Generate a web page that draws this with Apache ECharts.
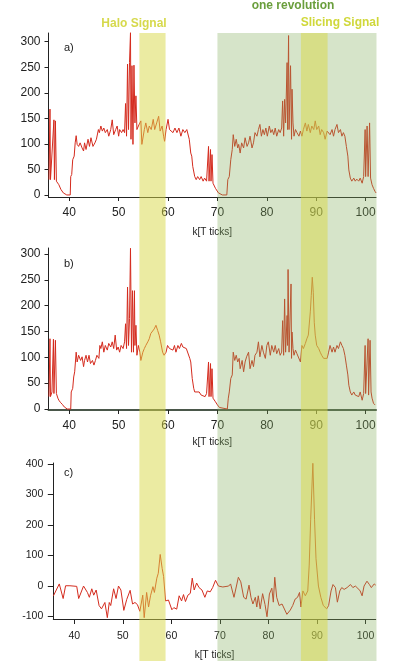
<!DOCTYPE html>
<html>
<head>
<meta charset="utf-8">
<script src="https://cdn.jsdelivr.net/npm/echarts@6/dist/echarts.min.js"></script>
<style>
  html, body { margin: 0; padding: 0; background: #fff; }
  #chart { width: 398px; height: 661px; }
</style>
</head>
<body>
<div id="chart"></div>
<script>
// signal a) [k, counts]
var signalA = [[35.9,30],[36.1,168],[36.2,30],[36.5,33],[36.9,147],[37.0,30],[37.2,145],[37.4,27],[37.8,27],[37.9,20],[38.3,11],[38.8,4],[39.1,1],[39.5,0],[40.2,0],[40.3,36],[40.5,40],[40.7,69],[41.0,76],[41.2,102],[41.4,116],[41.6,99],[41.9,95],[42.2,102],[42.6,92],[42.9,86],[43.1,102],[43.4,89],[43.8,109],[44.1,95],[44.4,112],[44.8,95],[45.2,102],[45.5,109],[45.9,128],[46.1,122],[46.4,135],[46.7,125],[47.0,131],[47.3,122],[47.7,128],[48.0,115],[48.4,128],[48.7,147],[49.0,118],[49.4,128],[49.7,135],[50.0,115],[50.2,128],[50.6,122],[50.9,128],[51.2,122],[51.4,179],[51.6,115],[51.8,256],[52.0,128],[52.2,259],[52.4,318],[52.5,109],[52.7,253],[52.9,99],[53.1,254],[53.3,141],[53.5,194],[53.7,128],[54.0,135],[54.5,145],[54.7,99],[55.2,128],[55.5,141],[55.9,122],[56.2,135],[56.6,128],[57.0,148],[57.3,128],[57.7,141],[58.1,154],[58.4,125],[58.8,135],[59.1,115],[59.3,105],[59.6,128],[60.0,148],[60.3,128],[60.6,131],[61.0,122],[61.4,131],[61.8,122],[62.2,131],[62.6,115],[63.0,128],[63.4,122],[63.8,128],[64.1,131],[64.3,109],[64.6,82],[64.8,76],[65.0,56],[65.4,36],[65.7,30],[66.0,36],[66.4,30],[66.7,36],[67.1,27],[67.4,33],[67.8,27],[68.2,95],[68.3,27],[68.6,89],[68.7,27],[68.9,79],[69.1,23],[69.6,13],[70.2,4],[70.5,1],[71.0,0],[71.9,0],[72.1,30],[72.4,36],[72.7,69],[73.0,89],[73.2,118],[73.5,95],[73.8,109],[74.1,92],[74.3,99],[74.6,82],[74.9,102],[75.3,92],[75.6,112],[76.0,95],[76.3,102],[76.6,115],[77.0,92],[77.3,102],[77.6,122],[78.0,115],[78.3,128],[78.6,138],[78.9,115],[79.2,128],[79.5,118],[79.8,131],[80.1,115],[80.5,135],[80.8,122],[81.1,128],[81.4,118],[81.7,131],[82.0,115],[82.4,128],[82.7,122],[83.0,131],[83.2,184],[83.4,115],[83.6,187],[83.8,141],[84.1,259],[84.2,128],[84.4,312],[84.5,128],[84.8,253],[85.0,109],[85.1,207],[85.3,141],[85.5,115],[85.8,128],[86.1,122],[86.5,115],[86.8,125],[87.1,115],[87.4,128],[87.8,141],[88.1,125],[88.4,138],[88.8,122],[89.1,135],[89.5,128],[89.8,145],[90.1,128],[90.5,135],[90.8,118],[91.1,128],[91.5,122],[91.8,109],[92.2,125],[92.5,128],[92.8,118],[93.2,128],[93.5,115],[93.8,128],[94.2,138],[94.5,122],[94.9,128],[95.2,115],[95.5,122],[95.8,115],[96.1,95],[96.4,76],[96.6,49],[96.9,33],[97.2,27],[97.6,33],[97.9,27],[98.2,31],[98.6,27],[98.9,33],[99.3,23],[99.6,36],[99.9,128],[100.0,36],[100.3,135],[100.5,36],[100.8,141],[101.0,33],[101.3,20],[101.6,13],[101.9,7],[102.1,4]];

// signal b)
var signalB = [[35.9,24],[36.1,136],[36.2,24],[36.5,33],[36.8,135],[36.9,30],[37.2,133],[37.4,30],[37.7,21],[37.9,17],[38.2,13],[38.6,9],[39.0,4],[39.3,2],[39.6,0],[40.3,0],[40.4,33],[40.7,40],[40.9,62],[41.1,72],[41.4,110],[41.6,91],[41.9,104],[42.3,94],[42.6,101],[42.9,82],[43.1,94],[43.4,104],[43.7,91],[44.0,104],[44.3,88],[44.7,94],[45.0,85],[45.3,94],[45.6,104],[46.0,98],[46.2,123],[46.4,117],[46.7,130],[47.0,110],[47.3,123],[47.7,114],[48.0,127],[48.4,120],[48.7,130],[49.0,117],[49.3,143],[49.6,114],[49.9,120],[50.2,110],[50.5,123],[50.9,117],[51.2,130],[51.4,165],[51.6,117],[51.8,236],[52.0,123],[52.2,175],[52.4,311],[52.6,110],[52.8,229],[53.0,110],[53.2,229],[53.3,123],[53.5,162],[53.7,104],[54.0,123],[54.3,110],[54.5,94],[54.9,110],[55.2,117],[55.5,123],[55.9,130],[56.2,136],[56.5,146],[56.9,143],[57.2,155],[57.55,162],[57.9,152],[58.2,143],[58.5,130],[58.9,110],[59.2,104],[59.6,110],[59.9,123],[60.3,117],[60.6,120],[61.0,114],[61.3,123],[61.6,110],[62.0,123],[62.3,117],[62.7,127],[63.0,120],[63.4,123],[63.7,117],[64.1,120],[64.4,98],[64.6,91],[64.9,59],[65.2,40],[65.4,33],[65.8,30],[66.3,33],[66.7,27],[67.1,30],[67.5,24],[67.8,30],[68.2,91],[68.3,24],[68.6,88],[68.7,24],[68.9,78],[69.1,21],[69.6,14],[70.0,8],[70.4,3],[70.8,0],[72.0,0],[72.2,21],[72.4,33],[72.7,59],[73.0,66],[73.2,110],[73.5,94],[73.8,104],[74.1,91],[74.4,98],[74.6,78],[75.0,94],[75.3,72],[75.6,91],[75.9,101],[76.3,110],[76.6,78],[77.0,94],[77.3,82],[77.6,104],[78.0,110],[78.3,130],[78.6,101],[79.0,123],[79.3,110],[79.7,98],[80.0,123],[80.3,130],[80.7,104],[81.0,123],[81.4,110],[81.7,123],[82.0,107],[82.4,117],[82.7,104],[83.0,110],[83.2,171],[83.4,104],[83.6,213],[83.8,110],[84.1,181],[84.2,123],[84.3,270],[84.5,110],[84.9,242],[85.0,98],[85.1,149],[85.3,117],[85.5,104],[85.8,114],[86.1,107],[86.5,110],[86.8,91],[87.1,123],[87.4,117],[87.8,127],[88.1,136],[88.4,143],[88.8,188],[89.0,220],[89.2,255],[89.4,226],[89.6,168],[89.8,143],[90.1,123],[90.5,117],[90.8,110],[91.1,104],[91.5,98],[91.8,101],[92.2,98],[92.5,110],[92.8,123],[93.2,110],[93.5,120],[93.8,110],[94.2,123],[94.5,117],[94.9,130],[95.2,123],[95.5,117],[95.8,104],[96.1,85],[96.4,66],[96.6,46],[96.9,33],[97.2,27],[97.6,33],[97.9,27],[98.2,30],[98.6,24],[98.9,33],[99.3,17],[99.6,30],[99.9,123],[100.0,30],[100.3,33],[100.5,136],[100.6,27],[100.9,133],[101.1,33],[101.3,21],[101.6,11],[101.9,8]];

// signal c) difference
var signalC = [[35.7,-33],[36.0,-33],[36.9,6],[37.7,-42],[38.2,0],[39.1,0],[40.5,-2],[40.9,-42],[41.9,-1],[42.7,-22],[43.1,-38],[43.6,-10],[44.0,-31],[44.5,-14],[45.1,-65],[45.6,-76],[46.3,-55],[46.8,-105],[47.2,-55],[47.5,-65],[48.1,-10],[48.6,-42],[49.1,-1],[49.6,-14],[50.2,-81],[50.8,-45],[51.5,-15],[52.0,-60],[52.5,-55],[53.0,-62],[53.5,-84],[54.1,-31],[54.4,-105],[54.9,-22],[55.3,-70],[55.7,-33],[56.2,-3],[56.5,-22],[57.0,25],[57.3,41],[57.7,103],[58.1,57],[58.4,30],[58.8,-50],[59.4,-47],[60.1,-79],[60.5,-72],[61.1,-77],[61.6,-33],[62.1,-50],[62.5,-29],[62.9,-52],[63.4,-31],[63.9,-25],[64.3,25],[64.7,-14],[65.2,9],[65.7,-6],[66.3,-14],[66.9,-38],[67.4,-17],[68.0,-20],[68.5,-6],[69.1,18],[69.7,-1],[70.6,-4],[71.8,-1],[72.2,6],[72.9,-38],[73.3,-38],[73.8,28],[74.3,13],[74.9,-38],[75.4,-44],[76.0,2],[76.4,-38],[76.8,-60],[77.3,-38],[77.6,-70],[77.9,-33],[78.3,-76],[78.8,-26],[79.3,-62],[79.7,-102],[80.2,-27],[80.7,-8],[81.0,-54],[81.3,28],[81.7,-38],[82.2,-65],[82.8,-60],[83.2,-65],[83.8,-94],[84.5,-80],[85.0,-65],[85.5,-44],[86.0,-38],[86.4,-22],[86.7,-70],[87.1,-17],[87.6,-33],[88.1,-17],[88.4,68],[88.7,217],[89.15,403],[89.5,217],[89.8,89],[90.3,-1],[90.8,-38],[91.3,-65],[92.0,-76],[92.4,-65],[92.9,-17],[93.3,4],[93.8,-6],[94.2,-54],[94.7,-17],[95.1,-6],[95.6,-12],[96.2,-6],[96.9,4],[97.4,-6],[97.9,-1],[98.4,-8],[98.9,-17],[99.3,-33],[99.7,-1],[100.3,15],[100.8,4],[101.2,-6],[101.8,6],[102.1,2]];

// shaded regions [from k, to k]
var bands = [[70.0, 102.2], [54.2, 59.5], [86.9, 92.3]];
var bandColors = ["rgba(130,172,92,0.33)", "rgba(215,215,70,0.5)", "rgba(215,215,70,0.5)"];

var kTicks = [40, 50, 60, 70, 80, 90, 100];
var countTicks = [0, 50, 100, 150, 200, 250, 300];
var diffTicks = [-100, 0, 100, 200, 300, 400];

var FONT = "'Liberation Sans', Arial, sans-serif";
var LINE = "#d42b1e";

function xAxisFor(idx, min, max, opts) {
    return {
        type: "value", gridIndex: idx, min: min, max: max,
        name: opts.name || "", nameLocation: "middle", nameGap: opts.nameGap || 30,
        nameTextStyle: {fontFamily: FONT, fontSize: 10, color: "#222"},
        axisLine: {onZero: false, lineStyle: {color: opts.lineColor || "#222", width: opts.lineWidth || 1}},
        axisTick: {show: true, length: opts.tick || 4, lineStyle: {color: "#222"}, customValues: kTicks},
        axisLabel: {fontFamily: FONT, fontSize: opts.fontSize || 12, color: "#222", margin: opts.margin || 9, customValues: kTicks},
        splitLine: {show: false}
    };
}
function yAxisFor(idx, min, max, ticks, opts) {
    return {
        type: "value", gridIndex: idx, min: min, max: max,
        axisLine: {show: true, onZero: false, lineStyle: {color: "#222"}},
        axisTick: {show: true, length: opts.tick || 4, lineStyle: {color: "#222"}, customValues: ticks},
        axisLabel: {fontFamily: FONT, fontSize: opts.fontSize || 12, color: "#222", margin: opts.margin || 8, customValues: ticks},
        splitLine: {show: false}
    };
}
function lineSeries(idx, data) {
    return {
        type: "line", xAxisIndex: idx, yAxisIndex: idx, data: data,
        showSymbol: false, symbol: "none", silent: true, z: 2,
        lineStyle: {color: LINE, width: 1}
    };
}

var chart = echarts.init(document.getElementById("chart"));
var option = {
    animation: false,
    backgroundColor: "#fff",
    grid: [
        {left: 48.5, top: 33, width: 327.5, height: 164},
        {left: 48.5, top: 248, width: 327.5, height: 162},
        {left: 53.3, top: 463, width: 322.4, height: 161},
        {left: 48.5, top: 33, width: 327.5, height: 628}
    ],
    xAxis: [
        xAxisFor(0, 35.8, 102.1, {name: "k[T ticks]", nameGap: 30, margin: 10}),
        xAxisFor(1, 35.8, 102.1, {name: "k[T ticks]", nameGap: 27, margin: 10, lineColor: "#4a574a", lineWidth: 2}),
        xAxisFor(2, 35.67, 102.1, {name: "k[T ticks]", nameGap: 31, margin: 12, fontSize: 10.5, tick: 5}),
        {type: "value", gridIndex: 3, min: 35.8, max: 102.1, show: false}
    ],
    yAxis: [
        yAxisFor(0, -4, 317, countTicks, {}),
        yAxisFor(1, -1.9, 311.6, countTicks, {}),
        yAxisFor(2, -109.4, 404, diffTicks, {fontSize: 10.5, margin: 10, tick: 5.5}),
        {type: "value", gridIndex: 3, min: 0, max: 1, show: false}
    ],
    graphic: [
        {type: "text", left: 64, top: 42, style: {text: "a)", font: "11px " + FONT, fill: "#222"}},
        {type: "text", left: 64, top: 258, style: {text: "b)", font: "11px " + FONT, fill: "#222"}},
        {type: "text", left: 64, top: 467, style: {text: "c)", font: "11px " + FONT, fill: "#222"}},
        {type: "text", x: 134, y: 24, style: {text: "Halo Signal", font: "bold 12px " + FONT, fill: "#d6d94c", align: "center", verticalAlign: "middle"}},
        {type: "text", x: 293, y: 6, style: {text: "one revolution", font: "bold 12px " + FONT, fill: "#6a9e3c", align: "center", verticalAlign: "middle"}},
        {type: "text", x: 340, y: 23, style: {text: "Slicing Signal", font: "bold 12px " + FONT, fill: "#d0d83a", align: "center", verticalAlign: "middle"}}
    ],
    series: [
        lineSeries(0, signalA),
        lineSeries(1, signalB),
        lineSeries(2, signalC),
        {
            type: "custom", xAxisIndex: 3, yAxisIndex: 3, data: bands,
            encode: {x: [0, 1]}, silent: true, z: 20, clip: false,
            renderItem: function (params, api) {
                var p0 = api.coord([api.value(0), 1]);
                var p1 = api.coord([api.value(1), 0]);
                return {
                    type: "rect",
                    shape: {x: p0[0], y: p0[1], width: p1[0] - p0[0], height: p1[1] - p0[1]},
                    style: {fill: bandColors[params.dataIndex]}
                };
            }
        }
    ]
};
chart.setOption(option);
</script>
</body>
</html>
